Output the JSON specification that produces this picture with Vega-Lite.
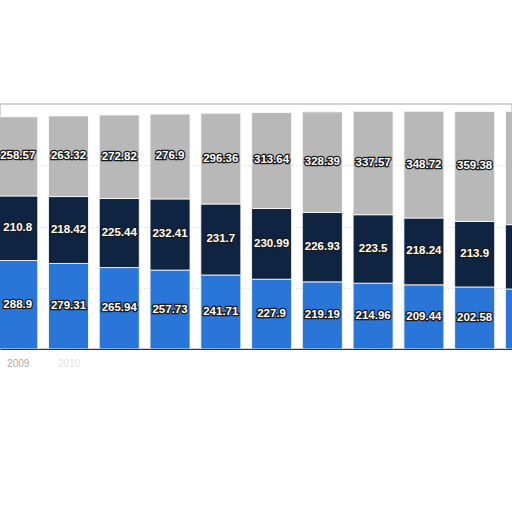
{
  "$schema": "https://vega.github.io/schema/vega-lite/v6.json",
  "width": 512,
  "height": 245,
  "autosize": {"type": "none"},
  "padding": {"top": 104, "left": 0, "right": 0, "bottom": 163},
  "background": "#ffffff",
  "config": {"view": {"stroke": "#c4c4c4", "strokeWidth": 1.5}},
  "data": {
    "values": [
      {"year": 2009, "type": "A", "value": 288.9},
      {"year": 2009, "type": "B", "value": 210.8},
      {"year": 2009, "type": "C", "value": 258.57},
      {"year": 2010, "type": "A", "value": 279.31},
      {"year": 2010, "type": "B", "value": 218.42},
      {"year": 2010, "type": "C", "value": 263.32},
      {"year": 2011, "type": "A", "value": 265.94},
      {"year": 2011, "type": "B", "value": 225.44},
      {"year": 2011, "type": "C", "value": 272.82},
      {"year": 2012, "type": "A", "value": 257.73},
      {"year": 2012, "type": "B", "value": 232.41},
      {"year": 2012, "type": "C", "value": 276.9},
      {"year": 2013, "type": "A", "value": 241.71},
      {"year": 2013, "type": "B", "value": 231.7},
      {"year": 2013, "type": "C", "value": 296.36},
      {"year": 2014, "type": "A", "value": 227.9},
      {"year": 2014, "type": "B", "value": 230.99},
      {"year": 2014, "type": "C", "value": 313.64},
      {"year": 2015, "type": "A", "value": 219.19},
      {"year": 2015, "type": "B", "value": 226.93},
      {"year": 2015, "type": "C", "value": 328.39},
      {"year": 2016, "type": "A", "value": 214.96},
      {"year": 2016, "type": "B", "value": 223.5},
      {"year": 2016, "type": "C", "value": 337.57},
      {"year": 2017, "type": "A", "value": 209.44},
      {"year": 2017, "type": "B", "value": 218.24},
      {"year": 2017, "type": "C", "value": 348.72},
      {"year": 2018, "type": "A", "value": 202.58},
      {"year": 2018, "type": "B", "value": 213.9},
      {"year": 2018, "type": "C", "value": 359.38},
      {"year": 2019, "type": "A", "value": 196},
      {"year": 2019, "type": "B", "value": 210},
      {"year": 2019, "type": "C", "value": 370}
    ]
  },
  "encoding": {
    "x": {
      "field": "year",
      "type": "quantitative",
      "scale": {"domain": [2008.749, 2018.637], "nice": false, "zero": false},
      "axis": {
        "title": null,
        "values": [2009, 2010, 2011, 2012, 2013, 2014, 2015, 2016, 2017, 2018],
        "format": "d",
        "grid": false,
        "ticks": false,
        "domainColor": "#333333",
        "domainWidth": 1,
        "labelFlush": false,
        "labelPadding": 9,
        "labelFontSize": 10,
        "labelFont": "Liberation Sans",
        "labelColor": {
          "condition": [
            {"test": "datum.value == 2009", "value": "#a9a9a9"},
            {"test": "datum.value == 2010", "value": "#e2e2e2"}
          ],
          "value": "#ffffff"
        }
      }
    },
    "order": {"field": "type", "type": "nominal", "sort": "ascending"}
  },
  "layer": [
    {
      "mark": {"type": "bar", "size": 40, "clip": true, "stroke": "#ffffff", "strokeWidth": 0.8},
      "encoding": {
        "y": {
          "field": "value",
          "type": "quantitative",
          "stack": "zero",
          "scale": {"domain": [0, 800], "nice": false},
          "axis": {
            "title": null,
            "labels": false,
            "ticks": false,
            "domain": false,
            "grid": true,
            "values": [200, 400, 600],
            "gridColor": "#c8c8c8",
            "gridDash": [1, 3],
            "gridWidth": 1
          }
        },
        "color": {
          "field": "type",
          "type": "nominal",
          "scale": {"domain": ["A", "B", "C"], "range": ["#2a75d8", "#0e2440", "#b8b8b8"]},
          "legend": null
        }
      }
    },
    {
      "transform": [{"filter": "datum.year <= 2018"}],
      "mark": {"type": "text", "clip": true, "font": "Liberation Sans", "fontWeight": "bold", "fontSize": 11.5, "fill": "#1a1a1a", "stroke": "#1a1a1a", "strokeWidth": 2.6, "baseline": "middle"},
      "encoding": {
        "y": {"field": "value", "type": "quantitative", "stack": "zero", "bandPosition": 0.5},
        "detail": {"field": "type"},
        "text": {"field": "value", "type": "quantitative"}
      }
    },
    {
      "transform": [{"filter": "datum.year <= 2018"}],
      "mark": {"type": "text", "clip": true, "font": "Liberation Sans", "fontWeight": "bold", "fontSize": 11.5, "fill": "#ffffff", "baseline": "middle"},
      "encoding": {
        "y": {"field": "value", "type": "quantitative", "stack": "zero", "bandPosition": 0.5},
        "detail": {"field": "type"},
        "text": {"field": "value", "type": "quantitative"}
      }
    }
  ]
}
